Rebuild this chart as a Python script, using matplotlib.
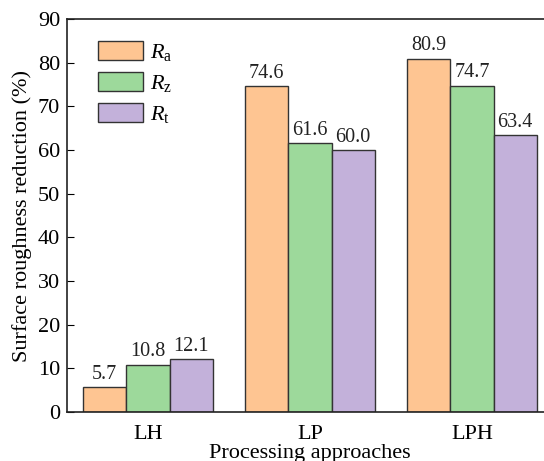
import numpy as np
import matplotlib
matplotlib.use("Agg")
import matplotlib.pyplot as plt

plt.rcParams['font.family'] = ['Liberation Serif', 'DejaVu Serif']
plt.rcParams['mathtext.fontset'] = 'custom'
plt.rcParams['mathtext.rm'] = 'Liberation Serif'
plt.rcParams['mathtext.it'] = 'Liberation Serif:italic'

# data
approaches = ["LH", "LP", "LPH"]
ra = [5.7, 74.6, 80.9]
rz = [10.8, 61.6, 74.7]
rt = [12.1, 60.0, 63.4]
series_names = [r"$\mathit{R}_\mathrm{a}$", r"$\mathit{R}_\mathrm{z}$", r"$\mathit{R}_\mathrm{t}$"]
colors = ["#FEC592", "#9DD99B", "#C3B1DA"]

fig = plt.figure(figsize=(5.44, 4.61), dpi=100)
ax = fig.add_axes([67/544, 1 - 412/461, (553 - 67)/544, (412 - 19)/461])

x = np.arange(len(approaches))
w = 0.8 / 3
for i, (vals, name, c) in enumerate(zip([ra, rz, rt], series_names, colors)):
    bars = ax.bar(x + (i - 1) * w, vals, width=w, color=c, edgecolor="#333333",
                  linewidth=1.0, label=name)
    for b, v in zip(bars, vals):
        ax.text(b.get_x() + b.get_width() / 2, v + 0.8, f"{v:.1f}",
                ha="center", va="bottom", fontsize=14.5, color="#222222")

ax.set_xlim(-0.5, 2.5)
ax.set_ylim(0, 90)
ax.set_yticks(np.arange(0, 91, 10))
ax.set_xticks(x)
ax.set_xticklabels(approaches)
ax.tick_params(axis="y", direction="in", length=5, labelsize=16, pad=5)
ax.tick_params(axis="x", length=0, labelsize=16, pad=9)
for s in ax.spines.values():
    s.set_linewidth(1.2)
    s.set_color("#222222")

ax.set_xlabel("Processing approaches", fontsize=16, labelpad=0)
ax.set_ylabel("Surface roughness reduction (%)", fontsize=16, labelpad=4)

ax.legend(loc="upper left", bbox_to_anchor=(0.022, 0.995), frameon=False,
          fontsize=16, handlelength=2.05, handleheight=0.95, labelspacing=0.4,
          handletextpad=0.3)

fig.savefig("out.png", dpi=100)
